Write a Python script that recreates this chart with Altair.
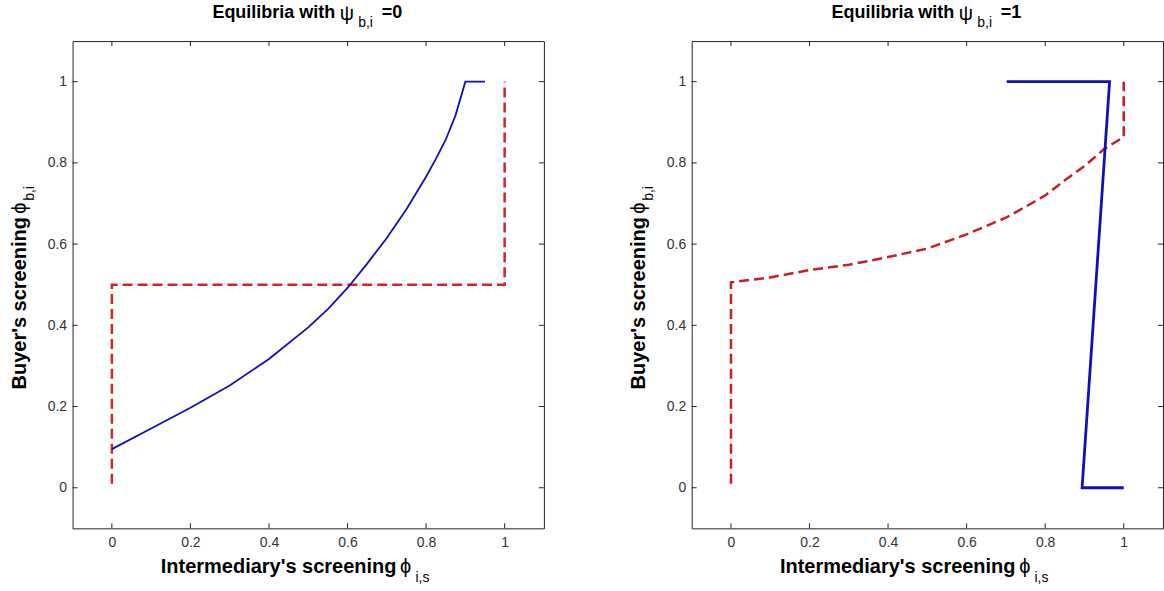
import altair as alt
import pandas as pd

FONT = "Liberation Sans"
TICKS = [0, 0.2, 0.4, 0.6, 0.8, 1.0]

# Left panel (psi = 0)
L_BLUE_X = [0.0, 0.1, 0.2, 0.3, 0.4, 0.5, 0.55, 0.6, 0.65, 0.7, 0.75, 0.8, 0.825, 0.85, 0.875, 0.9, 0.95]
L_BLUE_Y = [0.095, 0.146, 0.197, 0.252, 0.317, 0.395, 0.44, 0.492, 0.552, 0.615, 0.686, 0.766, 0.81, 0.857, 0.917, 1.0, 1.0]
L_RED_X = [0.0, 0.0, 1.0, 1.0]
L_RED_Y = [0.01, 0.5, 0.5, 1.0]

# Right panel (psi = 1)
R_BLUE_X = [0.702, 0.964, 0.894, 1.0]
R_BLUE_Y = [1.0, 1.0, 0.0, 0.0]
R_RED_X = [0.0, 0.0, 0.1, 0.2, 0.3, 0.4, 0.5, 0.6, 0.7, 0.75, 0.8, 0.85, 0.9, 0.95, 1.0, 1.0]
R_RED_Y = [0.01, 0.506, 0.518, 0.536, 0.549, 0.568, 0.589, 0.624, 0.665, 0.692, 0.72, 0.757, 0.792, 0.834, 0.864, 1.0]

TITLE_MAIN = "Equilibria with"
PSI = "ψ"
TITLE_SUB = "b,i"
TITLE_VALUES = ["=0", "=1"]
XLABEL = "Intermediary's screening"
PHI = "ϕ"
XSUB = "i,s"
YLABEL = "Buyer's screening"
YSUB = "b,i"

W, H = 472, 488
DUMMY = pd.DataFrame({"d": [0]})

xscale = alt.Scale(domain=[-0.1, 1.1], nice=False, zero=False)
yscale = alt.Scale(domain=[-0.1, 1.1], nice=False, zero=False)
common_axis = dict(values=TICKS, format="~g", title=None, domain=False, ticks=False,
                   tickSize=0, grid=False, labelFont=FONT, labelFontSize=14,
                   labelColor="#333333")
xaxis = alt.Axis(labelPadding=7, **common_axis)
yaxis = alt.Axis(labelPadding=6, **common_axis)


def line_df(xs, ys):
    return pd.DataFrame({"x": xs, "y": ys, "i": list(range(len(xs)))})


def line_layer(xs, ys, color, width, dash=None):
    kw = dict(color=color, strokeWidth=width, clip=True)
    if dash:
        kw["strokeDash"] = dash
    return alt.Chart(line_df(xs, ys)).mark_line(**kw).encode(
        x=alt.X("x:Q", scale=xscale, axis=xaxis),
        y=alt.Y("y:Q", scale=yscale, axis=yaxis),
        order="i:Q",
    )


def tick_layers():
    tdf = pd.DataFrame({"t": TICKS})
    base = alt.Chart(tdf).mark_rule(color="#222222", strokeWidth=1)
    tx = alt.X("t:Q", scale=xscale, axis=xaxis)
    ty = alt.Y("t:Q", scale=yscale, axis=yaxis)
    return [
        base.encode(x=tx, y=alt.value(H), y2=alt.value(H - 5)),
        base.encode(x=tx, y=alt.value(0), y2=alt.value(5)),
        base.encode(y=ty, x=alt.value(0), x2=alt.value(5)),
        base.encode(y=ty, x=alt.value(W - 5), x2=alt.value(W)),
    ]


def txt(s, x, y, size, weight="normal", align="left", angle=0):
    return alt.Chart(DUMMY).mark_text(
        text=s, align=align, baseline="alphabetic", font=FONT, fontSize=size,
        fontWeight=weight, color="black", angle=angle,
    ).encode(x=alt.value(x), y=alt.value(y))


def label_layers(value_text):
    return [
        # title
        txt(TITLE_MAIN, 263, -23.5, 18, "bold", "right"),
        txt(PSI, 267.5, -21, 20),
        txt(TITLE_SUB, 286, -14, 14),
        txt(value_text, 309.5, -23.5, 18, "bold"),
        # x label
        txt(XLABEL, 324.3, H + 44.3, 20, "bold", "right"),
        txt(PHI, 328, H + 44.3, 20),
        txt(XSUB, 343.3, H + 54, 14),
        # y label (rotated)
        txt(YLABEL, -46.5, 176.3, 20, "bold", "right", 270),
        txt(PHI, -46.5, 173, 20, "normal", "left", 270),
        txt(YSUB, -38.7, 160, 14, "normal", "left", 270),
    ]


left = alt.layer(
    *tick_layers(),
    line_layer(L_RED_X, L_RED_Y, "#d42424", 2.5, [10, 5]),
    line_layer(L_BLUE_X, L_BLUE_Y, "#1010b4", 1.8),
    *label_layers(TITLE_VALUES[0]),
).properties(width=W, height=H)

right = alt.layer(
    *tick_layers(),
    line_layer(R_RED_X, R_RED_Y, "#c42222", 2.5, [10, 5]),
    line_layer(R_BLUE_X, R_BLUE_Y, "#1010b4", 2.8),
    *label_layers(TITLE_VALUES[1]),
).properties(width=W, height=H)

chart = alt.hconcat(left, right, spacing=148, bounds="flush").properties(
    padding={"left": 9.7, "top": 2.7, "right": 0, "bottom": 0},
    background="white",
).configure_view(stroke="#222222", strokeWidth=1)

chart.save("out.html", embed_options={"renderer": "svg", "actions": False})
